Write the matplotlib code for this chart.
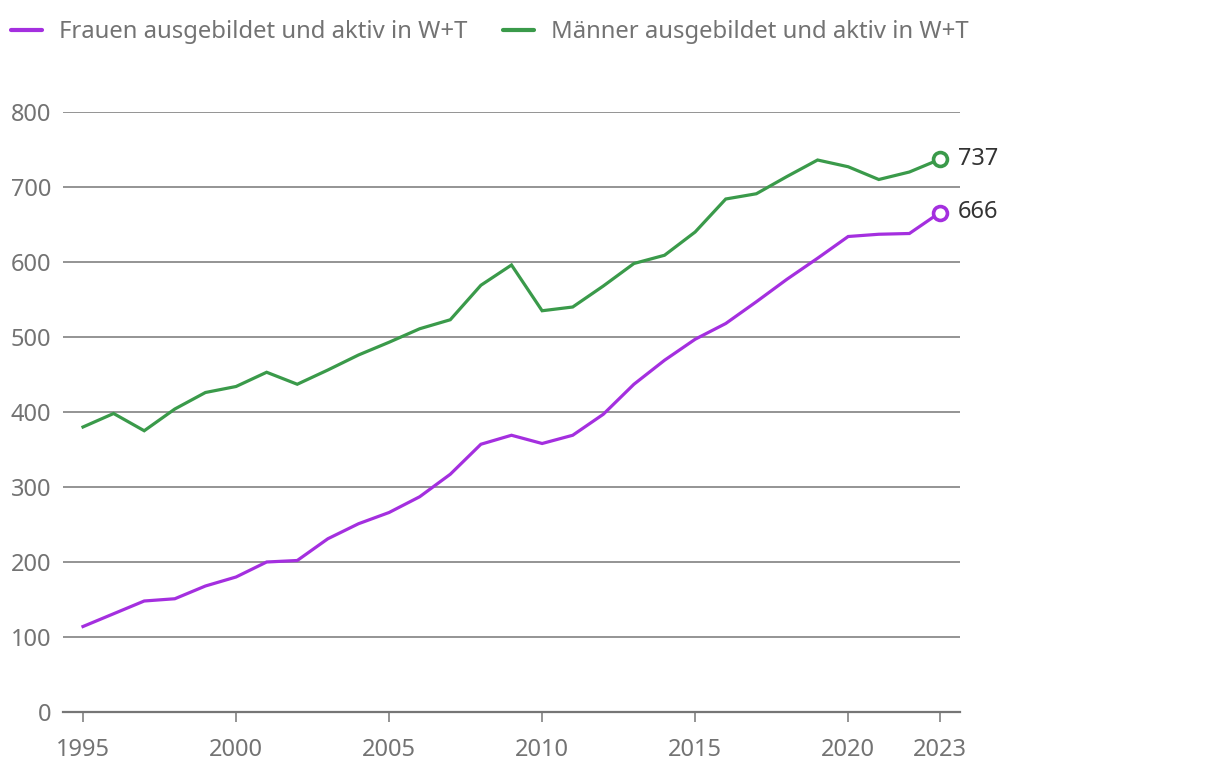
import matplotlib.pyplot as plt
from matplotlib.lines import Line2D

# data
years = list(range(1995, 2024))
frauen = [114, 131, 148, 151, 168, 180, 200, 202, 231, 251, 266, 287, 317, 357,
          369, 358, 369, 397, 437, 469, 497, 518, 547, 577, 605, 634, 637, 638, 666]
maenner = [380, 398, 375, 404, 426, 434, 453, 437, 456, 476, 493, 511, 523, 569,
           596, 535, 540, 568, 598, 609, 640, 684, 691, 714, 736, 727, 710, 720, 737]
labels = ["Frauen ausgebildet und aktiv in W+T", "Männer ausgebildet und aktiv in W+T"]
colors = ["#a42fdf", "#3a9a4a"]
xticks = [1995, 2000, 2005, 2010, 2015, 2020, 2023]
yticks = [0, 100, 200, 300, 400, 500, 600, 700, 800]

plt.rcParams['font.family'] = ['Noto Sans', 'DejaVu Sans']
grey = "#737373"
fs = 17

fig = plt.figure(figsize=(12.2, 7.78), dpi=100)
# axes in pixel terms: left 63, right 960, top 112, bottom 712
ax = fig.add_axes([63 / 1220, (778 - 712) / 778, (960 - 63) / 1220, 600 / 778])

ax.set_xlim(1995 - 20 / 30.607, 2023 + 20 / 30.607)
ax.set_ylim(0, 800)

for y in yticks[1:]:
    ax.axhline(y, color="#767676", lw=1.1, zorder=1)

for vals, col in zip([frauen, maenner], colors):
    ax.plot(years, vals, color=col, lw=2.3, zorder=3, solid_joinstyle="miter")
    ax.plot(years[-1], vals[-1], marker="o", ms=10, mfc="white", mec=col, mew=2.6,
            zorder=4, clip_on=False)
    ax.annotate(str(vals[-1]), (years[-1], vals[-1]), xytext=(13, 0),
                textcoords="offset points", va="center", ha="left",
                fontsize=fs, color="#333333", annotation_clip=False)

for s in ["top", "right", "left"]:
    ax.spines[s].set_visible(False)
ax.spines["bottom"].set_color("#767676")
ax.spines["bottom"].set_linewidth(1.6)
ax.spines["bottom"].set_zorder(2)

ax.set_xticks(xticks)
ax.set_xticklabels([str(x) for x in xticks])
ax.set_yticks(yticks)
ax.set_yticklabels([str(y) for y in yticks])
ax.tick_params(axis="x", length=7, width=1.1, color="#767676", pad=12,
               labelsize=fs, labelcolor=grey)
ax.tick_params(axis="y", length=0, pad=8.5, labelsize=fs, labelcolor=grey)

handles = [Line2D([], [], color=c, lw=3, solid_capstyle="round") for c in colors]
fig.legend(handles, labels, loc="center left",
           bbox_to_anchor=(11 / 1220, 1 - 32 / 778),
           ncol=2, frameon=False, fontsize=17.2, labelcolor=grey,
           handlelength=1.3, handletextpad=0.7, columnspacing=1.5,
           borderpad=0, borderaxespad=0)

fig.savefig("out.png", dpi=100)
